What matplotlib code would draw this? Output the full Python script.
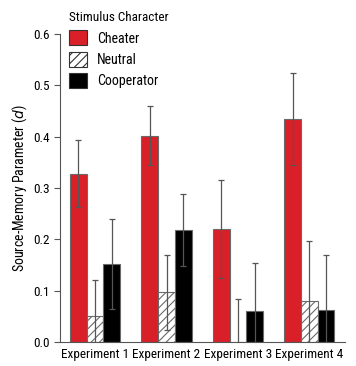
import numpy as np
import matplotlib.pyplot as plt
from matplotlib.patches import Patch

plt.rcParams['font.family'] = ['Roboto Condensed', 'Liberation Sans Narrow', 'Liberation Sans', 'DejaVu Sans']
plt.rcParams['hatch.color'] = '#555555'
plt.rcParams['hatch.linewidth'] = 0.8

experiments = ["Experiment 1", "Experiment 2", "Experiment 3", "Experiment 4"]
conditions = ["Cheater", "Neutral", "Cooperator"]

cheater = [0.328, 0.402, 0.220, 0.435]
cheater_err = [0.065, 0.058, 0.095, 0.090]
neutral = [0.050, 0.097, 0.000, 0.080]
neutral_err = [0.070, 0.073, 0.083, 0.116]
cooperator = [0.152, 0.218, 0.060, 0.062]
cooperator_err = [0.087, 0.070, 0.093, 0.108]

fig = plt.figure(figsize=(3.56, 3.66), dpi=100)
ax = fig.add_axes([0.169, 0.0656, 0.80, 0.8414])

x = np.arange(len(experiments))
w = 0.234
styles = [
    dict(color="#d91f28", edgecolor="#6a6a6a", hatch=None),
    dict(color="white", edgecolor="#6a6a6a", hatch="////"),
    dict(color="black", edgecolor="#6a6a6a", hatch=None),
]
series = [(cheater, cheater_err), (neutral, neutral_err), (cooperator, cooperator_err)]

for i, ((vals, errs), st) in enumerate(zip(series, styles)):
    pos = x + (i - 1) * w
    ax.bar(pos, vals, width=w, color=st["color"], edgecolor=st["edgecolor"],
           hatch=st["hatch"], linewidth=0.8, zorder=2)
    ax.errorbar(pos, vals, yerr=errs, fmt="none", ecolor="#555555",
                elinewidth=0.9, capsize=2, capthick=0.9, zorder=3)

ax.set_xlim(-0.49, 3.5)
ax.set_ylim(0, 0.6)
ax.set_yticks(np.arange(0, 0.61, 0.1))
ax.set_yticklabels([f"{v:.1f}" for v in np.arange(0, 0.61, 0.1)], fontsize=9.5)
ax.set_xticks(x)
ax.set_xticklabels(experiments, fontsize=9.5)
ax.tick_params(axis="x", length=0, pad=4)
ax.tick_params(axis="y", length=4, width=0.8, color="#555555", direction="out")
for s in ["top", "right"]:
    ax.spines[s].set_visible(False)
for s in ["left", "bottom"]:
    ax.spines[s].set_color("#555555")
    ax.spines[s].set_linewidth(0.8)

ax.set_ylabel("Source-Memory Parameter ($\\it{d}$)", fontsize=10, labelpad=3)

handles = [Patch(facecolor=st["color"], edgecolor="#333333", hatch=st["hatch"], linewidth=0.8)
           for st in styles]
leg = ax.legend(handles, conditions, title="Stimulus Character", loc="upper left",
                bbox_to_anchor=(0.178, 0.985), bbox_transform=fig.transFigure,
                frameon=False, fontsize=10, title_fontsize=9.5, handlelength=1.3,
                handleheight=1.3, labelspacing=0.45, handletextpad=0.7, borderaxespad=0)
leg._legend_box.align = "left"

fig.savefig("out.png", dpi=100)
